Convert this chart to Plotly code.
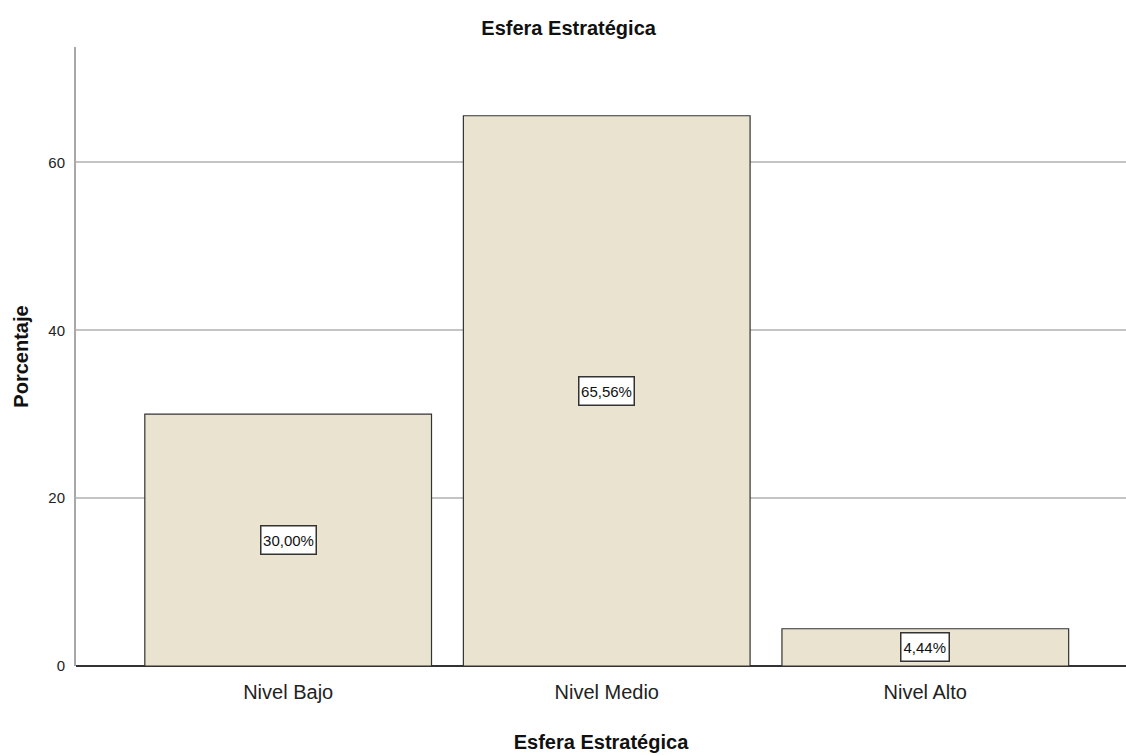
import plotly.graph_objects as go

categories = ["Nivel Bajo", "Nivel Medio", "Nivel Alto"]
percentages = [30.00, 65.56, 4.44]
value_labels = ["30,00%", "65,56%", "4,44%"]
y_ticks = [0, 20, 40, 60]

FONT = "Liberation Sans, Arial, sans-serif"

fig = go.Figure()
fig.add_trace(go.Bar(
    x=categories,
    y=percentages,
    width=0.9,
    marker=dict(color="#EAE3CF", line=dict(color="#333333", width=1.2)),
    hoverinfo="skip",
))

for cat, val, lab in zip(categories, percentages, value_labels):
    fig.add_annotation(
        x=cat, y=val / 2, xref="x", yref="y",
        text=lab, showarrow=False,
        font=dict(family=FONT, size=15, color="#111111"),
        width=len(lab) * 7.5 + 7, height=25,
        bgcolor="white", bordercolor="#333333", borderwidth=1.5, borderpad=1,
    )

fig.update_layout(
    width=1126, height=756,
    margin=dict(l=76, r=0, t=47, b=90),
    paper_bgcolor="white", plot_bgcolor="white",
    showlegend=False,
    font=dict(family=FONT, color="#111111"),
    title=dict(
        text="<b>Esfera Estratégica</b>",
        x=0.505, xanchor="center", xref="container",
        y=1 - 28 / 756, yanchor="middle", yref="container",
        font=dict(family=FONT, size=20, color="#111111"),
    ),
)

fig.update_xaxes(
    type="category",
    range=[-0.666, 2.63],
    showgrid=False,
    showline=False,
    zeroline=False,
    ticks="",
    tickfont=dict(family=FONT, size=20, color="#222222"),
    ticklabelstandoff=12,
    title=dict(text="<b>Esfera Estratégica</b>", font=dict(family=FONT, size=20, color="#111111"), standoff=32),
)
fig.update_yaxes(
    range=[0, 73.75],
    tickvals=y_ticks,
    ticktext=[str(v) for v in y_ticks],
    showgrid=True, gridcolor="#C4C4C4", gridwidth=2,
    zeroline=True, zerolinecolor="#333333", zerolinewidth=1.5,
    showline=True, linecolor="#A8A8A8", linewidth=2,
    ticks="",
    tickfont=dict(family=FONT, size=15, color="#222222"),
    ticklabelstandoff=6,
    title=dict(text="<b>Porcentaje</b>", font=dict(family=FONT, size=20, color="#111111"), standoff=14),
)

fig.write_html("out.html")
